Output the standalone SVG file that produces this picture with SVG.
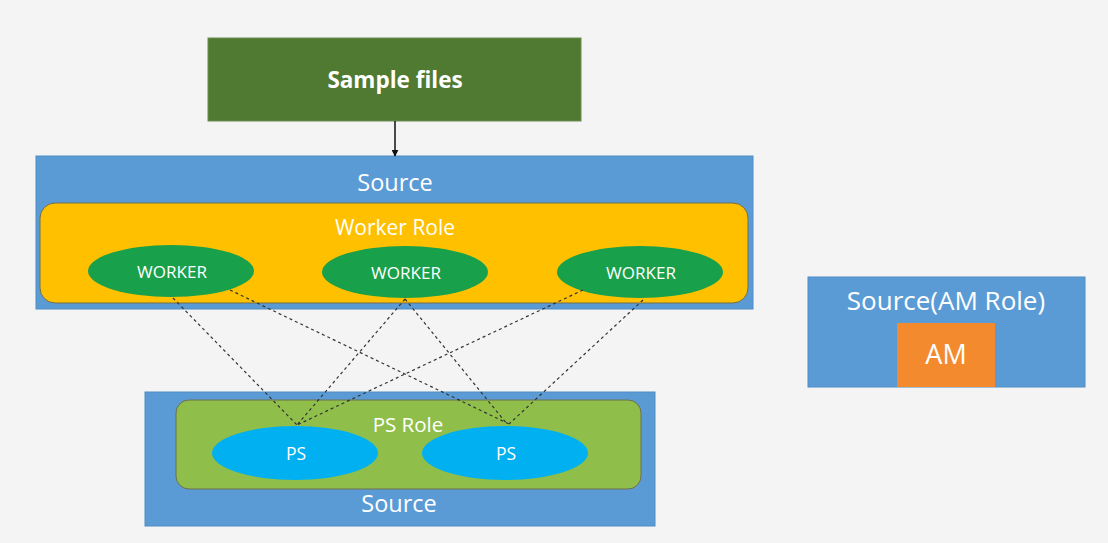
<svg xmlns="http://www.w3.org/2000/svg" width="1108" height="543" viewBox="0 0 1108 543">
<defs>
<marker id="arr" viewBox="0 0 10 10" refX="9" refY="5" markerWidth="7" markerHeight="7" orient="auto" markerUnits="userSpaceOnUse"><path d="M0,0 L10,5 L0,10 z" fill="#111"/></marker>
<style>
text{font-family:"Open Sans","Liberation Sans",sans-serif;fill:#fff;text-anchor:middle}
.src{fill:#5b9bd5;stroke:#4f8cc4;stroke-width:1}
.role{stroke:#6f6f4f;stroke-width:1}
.w{fill:#18a04a}
.ps{fill:#00b0f0}
.dash{stroke:#333;stroke-width:1.2;stroke-dasharray:3 3;fill:none}
</style>
</defs>
<rect x="0" y="0" width="1108" height="543" fill="#f4f4f4"/>
<g id="sample-files">
<rect x="208" y="38" width="373" height="83" fill="#507a32" stroke="#6a8c50" stroke-width="1"/>
<text x="395" y="88" font-size="22.5" font-weight="bold">Sample files</text>
</g>
<g id="source-top">
<rect class="src" x="36" y="156" width="717" height="153"/>
<text x="395" y="191" font-size="23.5">Source</text>
</g>
<g id="worker-role">
<rect class="role" x="40" y="203" width="708" height="100" rx="15" fill="#ffc000"/>
<text x="395" y="235" font-size="21">Worker Role</text>
</g>
<g id="worker1"><ellipse class="w" cx="171" cy="271" rx="83" ry="26"/><text x="172" y="277.5" font-size="17">WORKER</text></g>
<g id="worker2"><ellipse class="w" cx="405" cy="272" rx="83" ry="26"/><text x="406" y="278.5" font-size="17">WORKER</text></g>
<g id="worker3"><ellipse class="w" cx="640" cy="272" rx="83" ry="26"/><text x="641" y="278.5" font-size="17">WORKER</text></g>
<g id="source-bottom">
<rect class="src" x="145" y="392" width="510" height="134"/>
<text x="399" y="512" font-size="23.5">Source</text>
</g>
<g id="ps-role">
<rect class="role" x="176" y="400" width="465" height="89" rx="13" fill="#8fbf4a"/>
<text x="408" y="432" font-size="20.5">PS Role</text>
</g>
<g id="ps1"><ellipse class="ps" cx="295" cy="453" rx="83" ry="27"/><text x="296" y="460" font-size="17.5">PS</text></g>
<g id="ps2"><ellipse class="ps" cx="505" cy="453" rx="83" ry="27"/><text x="506" y="460" font-size="17.5">PS</text></g>
<g id="am-role">
<rect class="src" x="808" y="277" width="277" height="110"/>
<text x="946" y="310" font-size="26">Source(AM Role)</text>
</g>
<g id="am">
<rect x="897" y="323" width="98" height="64" fill="#f48a2e"/>
<text x="946" y="364" font-size="27">AM</text>
</g>
<g id="connectors">
<line x1="395" y1="121" x2="395" y2="156" stroke="#111" stroke-width="1.5" marker-end="url(#arr)"/>
<line class="dash" x1="173" y1="298" x2="297" y2="425"/>
<line class="dash" x1="230" y1="290" x2="509" y2="424"/>
<line class="dash" x1="405" y1="299" x2="297" y2="425"/>
<line class="dash" x1="405" y1="299" x2="507" y2="424"/>
<line class="dash" x1="583" y1="290" x2="297" y2="425"/>
<line class="dash" x1="643" y1="300" x2="509" y2="424"/>
</g>
</svg>
